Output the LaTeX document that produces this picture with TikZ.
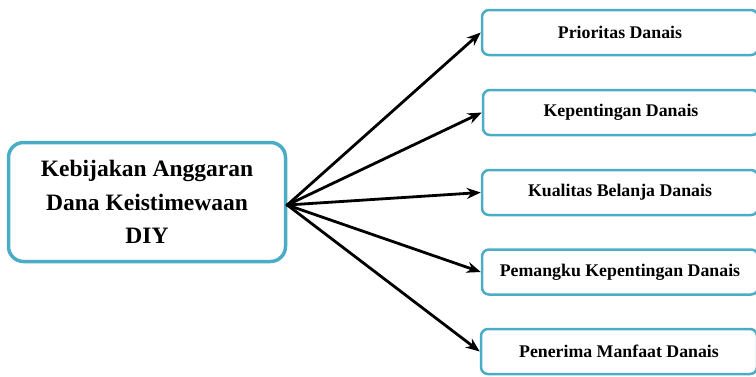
\documentclass[tikz,border=0pt]{standalone}
\usepackage{fontspec}
\setmainfont{Liberation Serif}
\usepackage{tikz}
\usetikzlibrary{arrows,arrows.meta,positioning,calc}
\definecolor{boxblue}{RGB}{75,172,198}

\begin{document}
\begin{tikzpicture}[x=1pt,y=-1pt,
  mainbox/.style={rectangle, draw=boxblue, line width=3.5pt, rounded corners=15pt,
    minimum width=277pt, minimum height=119pt, align=center,
    font=\fontsize{23.5}{33.5}\selectfont\bfseries},
  subbox/.style={rectangle, draw=boxblue, line width=2.5pt, rounded corners=7pt,
    minimum width=276pt, minimum height=45pt,
    font=\fontsize{17.8}{20}\selectfont\bfseries}]
  \clip (0,0) rectangle (756,376);

  \node (keb) [mainbox] at (147,202) {Kebijakan Anggaran\\Dana Keistimewaan\\DIY};

  \node (r1) [subbox] at (620,32.5) {Prioritas Danais};
  \node (r2) [subbox] at (621,112.5) {Kepentingan Danais};
  \node (r3) [subbox] at (620,192.5) {Kualitas Belanja Danais};
  \node (r4) [subbox] at (620,272) {Pemangku Kepentingan Danais};
  \node (r5) [subbox] at (619,351.5) {Penerima Manfaat Danais};

  \path [-{Stealth[length=14pt,width=11pt]}] [line width=2.8pt, shorten <=-1pt]
  ([yshift=-3pt]keb.east) edge node {} (r1.west)
  ([yshift=-3pt]keb.east) edge node {} (r2.west)
  ([yshift=-3pt]keb.east) edge node {} (r3.west)
  ([yshift=-3pt]keb.east) edge node {} (r4.west)
  ([yshift=-3pt]keb.east) edge node {} (r5.west);
\end{tikzpicture}
\end{document}
